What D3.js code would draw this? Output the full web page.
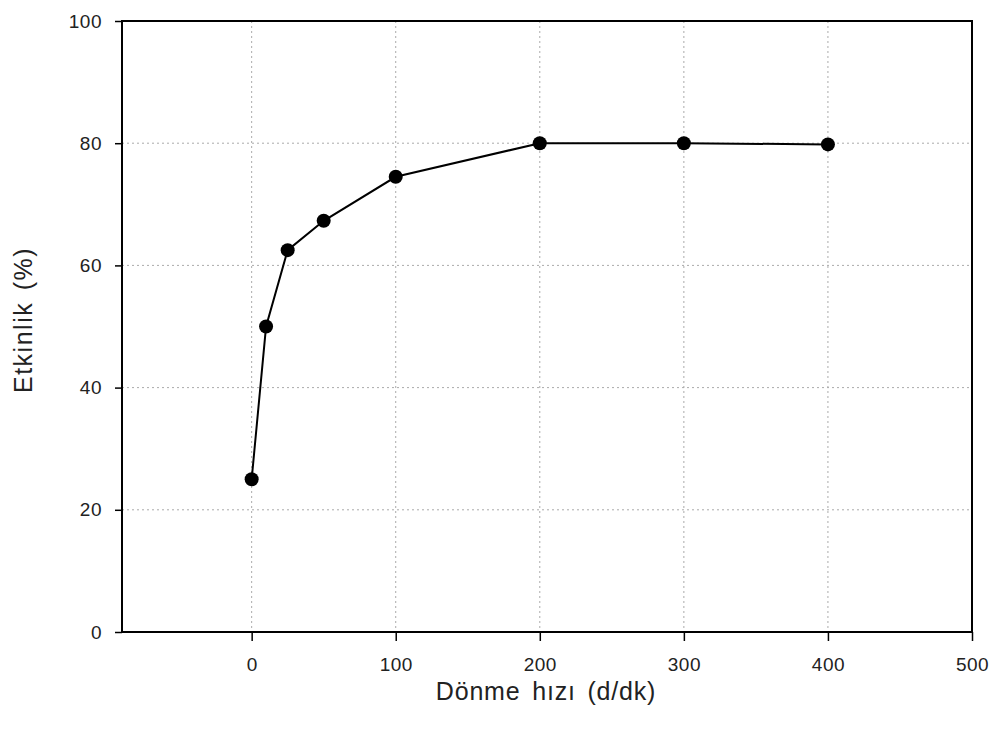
<!DOCTYPE html>
<html><head><meta charset="utf-8">
<script src="https://cdn.jsdelivr.net/npm/d3@7/dist/d3.min.js"></script>
<style>body{margin:0;background:#fff;} svg{display:block;font-family:"Liberation Sans",Arial,sans-serif;}</style>
</head><body>
<svg id="c" width="998" height="738"></svg>
<script>
const speeds = [0, 10, 25, 50, 100, 200, 300, 400];
const efficiency = [25, 50, 62.5, 67.3, 74.5, 80, 80, 79.8];
const xTicks = [0, 100, 200, 300, 400, 500];
const yTicks = [0, 20, 40, 60, 80, 100];
const xTitle = "Dönme hızı (d/dk)";
const yTitle = "Etkinlik (%)";

const svg = d3.select("#c");
const m = {l:122, r:972, t:21, b:632};
const x = d3.scaleLinear().domain([-90, 500]).range([m.l, m.r]);
const y = d3.scaleLinear().domain([0, 100]).range([m.b, m.t]);

// grid
const g = svg.append("g");
g.selectAll(".vg").data([0,100,200,300,400]).join("line")
  .attr("x1", d=>x(d)).attr("x2", d=>x(d)).attr("y1", m.t).attr("y2", m.b)
  .attr("stroke", "#aaa").attr("stroke-width", 1).attr("stroke-dasharray", "2,3");
g.selectAll(".hg").data([20,40,60,80]).join("line")
  .attr("x1", m.l).attr("x2", m.r).attr("y1", d=>y(d)).attr("y2", d=>y(d))
  .attr("stroke", "#aaa").attr("stroke-width", 1).attr("stroke-dasharray", "2,3");

// axes
const xa = svg.append("g").attr("transform", `translate(0,${m.b})`)
  .call(d3.axisBottom(x).tickValues(xTicks).tickSize(9).tickPadding(17).tickSizeOuter(0));
const ya = svg.append("g").attr("transform", `translate(${m.l},0)`)
  .call(d3.axisLeft(y).tickValues(yTicks).tickSize(7).tickPadding(13).tickSizeOuter(0));
[xa, ya].forEach(a => {
  a.select(".domain").remove();
  a.selectAll(".tick line").attr("stroke", "#000").attr("stroke-width", 1.5);
  a.selectAll("text").attr("font-size", 19).attr("fill", "#222").attr("letter-spacing", 0.5)
    .attr("font-family", '"Liberation Sans",Arial,sans-serif');
});

// frame
svg.append("rect").attr("x", m.l).attr("y", m.t).attr("width", m.r-m.l).attr("height", m.b-m.t)
  .attr("fill", "none").attr("stroke", "#000").attr("stroke-width", 2);

const data = speeds.map((s,i)=>({s, e: efficiency[i]}));
svg.append("path").datum(data)
  .attr("d", d3.line().x(d=>x(d.s)).y(d=>y(d.e)))
  .attr("fill", "none").attr("stroke", "#000").attr("stroke-width", 2);
svg.selectAll(".pt").data(data).join("circle")
  .attr("cx", d=>x(d.s)).attr("cy", d=>y(d.e)).attr("r", 7).attr("fill", "#000");

svg.append("text").attr("x", 546).attr("y", 700).attr("text-anchor", "middle")
  .attr("font-size", 25).attr("letter-spacing", 0.8).attr("word-spacing", 4)
  .attr("fill", "#222").text(xTitle);
svg.append("text").attr("transform", `translate(32,320) rotate(-90)`)
  .attr("text-anchor", "middle").attr("font-size", 25).attr("letter-spacing", 1.5)
  .attr("word-spacing", 3).attr("fill", "#222").text(yTitle);
</script>
</body></html>
